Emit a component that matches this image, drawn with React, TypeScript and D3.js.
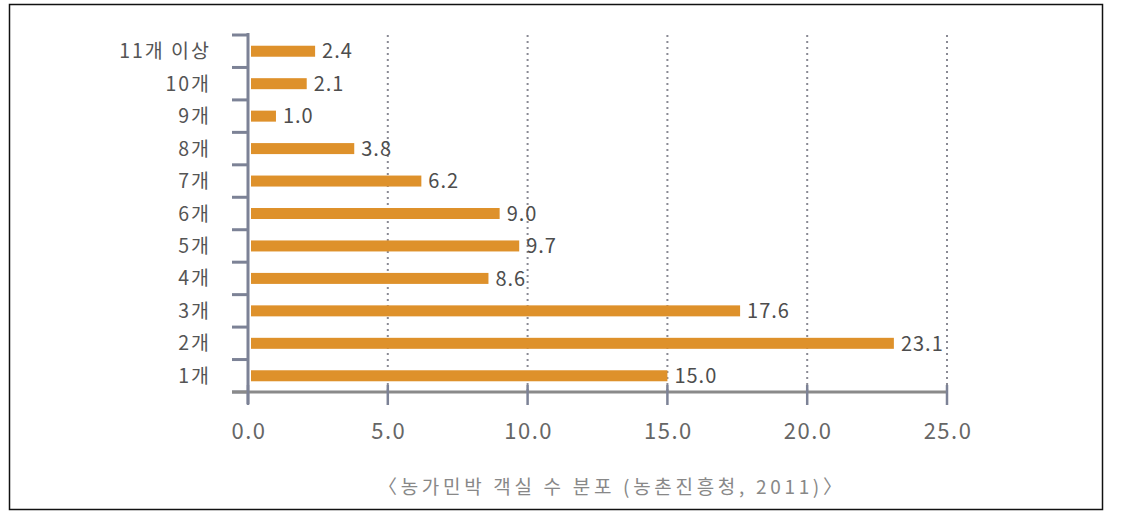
import React from "react";
import * as d3 from "d3";

const categories = ["11개 이상", "10개", "9개", "8개", "7개", "6개", "5개", "4개", "3개", "2개", "1개"];
const values = [2.4, 2.1, 1.0, 3.8, 6.2, 9.0, 9.7, 8.6, 17.6, 23.1, 15.0];
const xTicks = [0, 5, 10, 15, 20, 25];
const caption = "〈농가민박 객실 수 분포 (농촌진흥청, 2011)〉";

const W = 1130;
const H = 512;
const FONT = "'Noto Sans CJK KR', 'Noto Sans', sans-serif";

export default function App() {
  const x = d3.scaleLinear().domain([0, 25]).range([248, 947]);
  const y = d3.scaleBand().domain(categories).range([35, 392]).paddingInner(0).paddingOuter(0);
  const bw = y.bandwidth();
  const barH = 11;
  const boundaries = d3.range(categories.length + 1).map((i) => 35 + i * bw);

  return (
    <svg width={W} height={H} style={{ position: "absolute", left: 0, top: 0, background: "#fff" }}>
      <rect x={9.5} y={4.5} width={1093} height={505} fill="none" stroke="#111" strokeWidth={1.5} />
      {/* gridlines */}
      {xTicks.filter((t) => t > 0).map((t) => (
        <line key={"g" + t} x1={x(t)} x2={x(t)} y1={35} y2={392} stroke="#8a8a94" strokeWidth={2} strokeDasharray="2,4" />
      ))}
      {/* bars */}
      {categories.map((c, i) => {
        const cy = (y(c) as number) + bw / 2;
        return (
          <g key={c}>
            <rect x={x(0) + 3} y={cy - barH / 2} width={Math.max(0, x(values[i]) - x(0) - 3)} height={barH} fill="#de912b" />
            <text x={x(values[i]) + 7} y={cy} dy="0.36em" fontSize={20} letterSpacing={1} fill="#4d4d4d" fontFamily={FONT}>
              {values[i].toFixed(1)}
            </text>
            <text x={211} y={cy} dy="0.36em" textAnchor="end" fontSize={19.5} letterSpacing={2} fill="#555" fontFamily={FONT}>
              {c}
            </text>
          </g>
        );
      })}
      {/* y axis */}
      {boundaries.map((b, i) => (
        <line key={"yt" + i} x1={232} x2={249} y1={b} y2={b} stroke="#7c8296" strokeWidth={3} />
      ))}
      <line x1={248} x2={248} y1={33} y2={404} stroke="#7c8296" strokeWidth={3} />
      {/* x axis */}
      <line x1={232} x2={948} y1={392} y2={392} stroke="#8a8a8a" strokeWidth={3} />
      {xTicks.map((t) => (
        <g key={"xt" + t}>
          <line x1={x(t)} x2={x(t)} y1={385} y2={405} stroke="#7c8296" strokeWidth={2.5} />
          <text x={x(t) + 1} y={431} dy="0.36em" textAnchor="middle" fontSize={22} letterSpacing={1.5} fill="#666" fontFamily={FONT}>
            {t.toFixed(1)}
          </text>
        </g>
      ))}
      <text x={378} y={487} dy="0.36em" textLength={464} lengthAdjust="spacing" fontSize={19} fill="#888" fontFamily={FONT}>
        {caption}
      </text>
    </svg>
  );
}
